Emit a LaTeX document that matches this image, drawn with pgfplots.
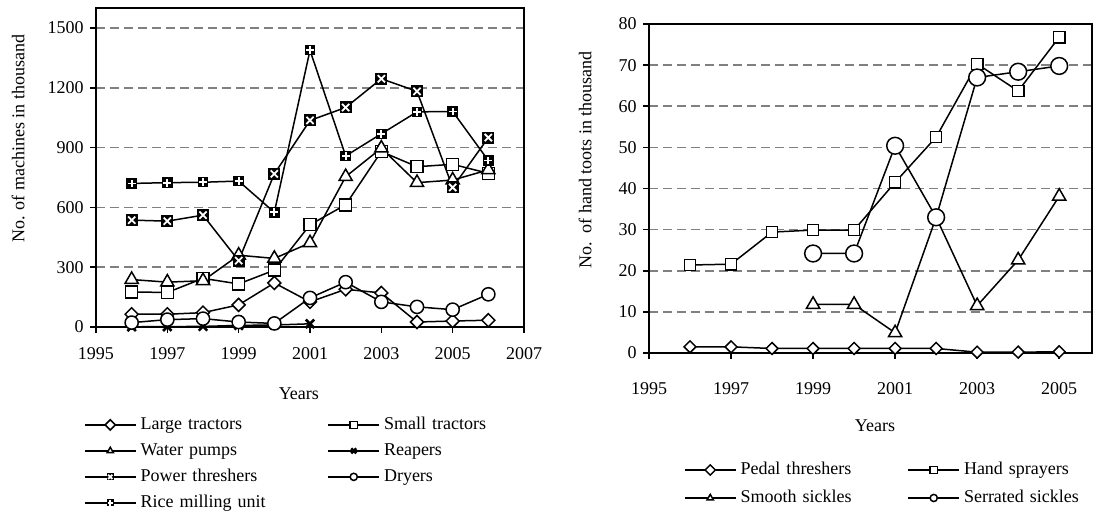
\documentclass[border=0pt]{standalone}
\usepackage{fontspec}
\setmainfont{Liberation Serif}
\usepackage{pgfplots}
\pgfplotsset{compat=1.18}

\pgfdeclareplotmark{xbox}{%
  \pgfpathrectangle{\pgfqpoint{-\pgfplotmarksize}{-\pgfplotmarksize}}{\pgfqpoint{2\pgfplotmarksize}{2\pgfplotmarksize}}%
  \pgfsetfillcolor{black}\pgfusepathqfill
  \pgfsetstrokecolor{white}%
  \pgfpathmoveto{\pgfqpoint{-.6\pgfplotmarksize}{-.6\pgfplotmarksize}}%
  \pgfpathlineto{\pgfqpoint{.6\pgfplotmarksize}{.6\pgfplotmarksize}}%
  \pgfpathmoveto{\pgfqpoint{-.6\pgfplotmarksize}{.6\pgfplotmarksize}}%
  \pgfpathlineto{\pgfqpoint{.6\pgfplotmarksize}{-.6\pgfplotmarksize}}%
  \pgfusepathqstroke
}
\pgfdeclareplotmark{plusbox}{%
  \pgfpathrectangle{\pgfqpoint{-\pgfplotmarksize}{-\pgfplotmarksize}}{\pgfqpoint{2\pgfplotmarksize}{2\pgfplotmarksize}}%
  \pgfsetfillcolor{black}\pgfusepathqfill
  \pgfsetstrokecolor{white}%
  \pgfpathmoveto{\pgfqpoint{0pt}{-.75\pgfplotmarksize}}%
  \pgfpathlineto{\pgfqpoint{0pt}{.75\pgfplotmarksize}}%
  \pgfpathmoveto{\pgfqpoint{-.75\pgfplotmarksize}{0pt}}%
  \pgfpathlineto{\pgfqpoint{.75\pgfplotmarksize}{0pt}}%
  \pgfusepathqstroke
}

\pgfplotsset{
  base/.style={
    scale only axis,
    axis line style={black, line width=0.9pt},
    tick align=outside,
    xtick pos=bottom, ytick pos=left,
    major tick length=3pt,
    tick style={black, line width=0.8pt},
    ymajorgrids,
    grid style={gray, line width=0.8pt, dash pattern=on 4.5pt off 2.5pt},
    every axis plot/.append style={black, line width=0.75pt},
    legend cell align=left,
    legend columns=2,
    legend image code/.code={\draw[mark repeat=2,mark phase=2,##1,mark size=1.8pt] plot coordinates {(0pt,0pt)(12.75pt,0pt)(25.5pt,0pt)};},
  }
}

\begin{document}
\fontsize{9}{11}\selectfont
\begin{tikzpicture}
\path[use as bounding box] (0,0) rectangle (551pt,-256.5pt);

% ---------- Left chart ----------
\begin{axis}[base,
  at={(48pt,-163.5pt)}, anchor=south west,
  width=214pt, height=159.5pt,
  xmin=1995, xmax=2007, ymin=0, ymax=1600,
  xtick={1995,1997,1999,2001,2003,2005,2007},
  xticklabels={1995,1997,1999,2001,2003,2005,2007},
  ytick={0,300,600,900,1200,1500},
  yticklabels={0,300,600,900,1200,1500},
  xticklabel style={anchor=center, yshift=-10.5pt},
  xlabel={Years},
  xlabel style={at={(axis description cs:0.474,-0.21)}, anchor=center},
  ylabel={No. of machines in thousand},
  ylabel style={at={(axis description cs:-0.182,0.59)}, anchor=center},
  legend style={at={(axis description cs:-0.028,-0.266)}, anchor=north west,
    draw=none, fill=none, inner sep=0pt, outer sep=0pt,
    nodes={text width=91.5pt, inner xsep=2pt, inner ysep=2.25pt, text height=6.5pt, text depth=2pt}},
]
\addplot[mark=square*, mark size=2.3pt, mark options={fill=white, rotate=45, solid}] coordinates {
 (1996,64) (1997,64) (1998,72) (1999,111) (2000,221) (2001,126) (2002,189) (2003,171) (2004,25) (2005,30) (2006,34)};
\addlegendentry{Large tractors}
\addplot[mark=square*, mark size=3pt, mark options={fill=white, solid}] coordinates {
 (1996,176) (1997,173) (1998,244) (1999,216) (2000,285) (2001,513) (2002,613) (2003,880) (2004,804) (2005,816) (2006,771)};
\addlegendentry{Small tractors}
\addplot[mark=triangle*, mark size=3.8pt, mark options={fill=white, solid}] coordinates {
 (1996,238) (1997,225) (1998,232) (1999,360) (2000,344) (2001,422) (2002,754) (2003,897) (2004,724) (2005,737) (2006,788)};
\addlegendentry{Water pumps}
\addplot[mark=x, mark size=3pt, mark options={line width=1.3pt, solid}] coordinates {
 (1996,1) (1997,2) (1998,3) (1999,8) (2000,10) (2001,16)};
\addlegendentry{Reapers}
\addplot[mark=xbox, mark size=3pt, mark options={line width=0.9pt, solid}] coordinates {
 (1996,536) (1997,531) (1998,561) (1999,333) (2000,768) (2001,1036) (2002,1101) (2003,1245) (2004,1182) (2005,700) (2006,950)};
\addlegendentry{Power threshers}
\addplot[mark=*, mark size=3.3pt, mark options={fill=white, solid}] coordinates {
 (1996,22) (1997,37) (1998,42) (1999,25) (2000,18) (2001,146) (2002,225) (2003,126) (2004,101) (2005,87) (2006,164)};
\addlegendentry{Dryers}
\addplot[mark=plusbox, mark size=2.6pt, mark options={line width=0.9pt, solid}] coordinates {
 (1996,720) (1997,724) (1998,726) (1999,732) (2000,575) (2001,1388) (2002,858) (2003,969) (2004,1079) (2005,1081) (2006,835)};
\addlegendentry{Rice milling unit}
\end{axis}

% ---------- Right chart ----------
\begin{axis}[base,
  at={(324.5pt,-176.5pt)}, anchor=south west,
  width=221.5pt, height=164.5pt,
  xmin=1995, xmax=2005.8, ymin=0, ymax=80,
  xtick={1995,1997,1999,2001,2003,2005},
  xticklabels={1995,1997,1999,2001,2003,2005},
  ytick={0,10,20,30,40,50,60,70,80},
  yticklabels={0,10,20,30,40,50,60,70,80},
  xticklabel style={anchor=center, yshift=-15pt},
  xlabel={Years},
  xlabel style={at={(axis description cs:0.51,-0.222)}, anchor=center},
  ylabel={No.\ \ of hand toots in thousand},
  ylabel style={at={(axis description cs:-0.144,0.587)}, anchor=center},
  legend style={at={(axis description cs:0.079,-0.313)}, anchor=north west,
    draw=none, fill=none, inner sep=0pt, outer sep=0pt,
    nodes={text width=81.5pt, inner xsep=2pt, inner ysep=2.75pt, text height=6.5pt, text depth=2pt}},
]
\addplot[mark=square*, mark size=2.1pt, mark options={fill=white, rotate=45, solid}] coordinates {
 (1996,1.5) (1997,1.5) (1998,1.1) (1999,1.1) (2000,1.1) (2001,1.1) (2002,1.1) (2003,0.2) (2004,0.2) (2005,0.3)};
\addlegendentry{Pedal threshers}
\addplot[mark=square*, mark size=2.8pt, mark options={fill=white, solid}] coordinates {
 (1996,21.4) (1997,21.6) (1998,29.4) (1999,29.9) (2000,29.9) (2001,41.5) (2002,52.5) (2003,70.3) (2004,63.7) (2005,76.8)};
\addlegendentry{Hand sprayers}
\addplot[mark=triangle*, mark size=3.8pt, mark options={fill=white, solid}] coordinates {
 (1999,11.8) (2000,11.8) (2001,4.9) (2002,33) (2003,11.5) (2004,22.6) (2005,38.1)};
\addlegendentry{Smooth sickles}
\addplot[mark=*, mark size=4.2pt, mark options={fill=white, solid}] coordinates {
 (1999,24.2) (2000,24.2) (2001,50.4) (2002,33) (2003,67) (2004,68.4) (2005,69.8)};
\addlegendentry{Serrated sickles}
\end{axis}
\end{tikzpicture}
\end{document}
